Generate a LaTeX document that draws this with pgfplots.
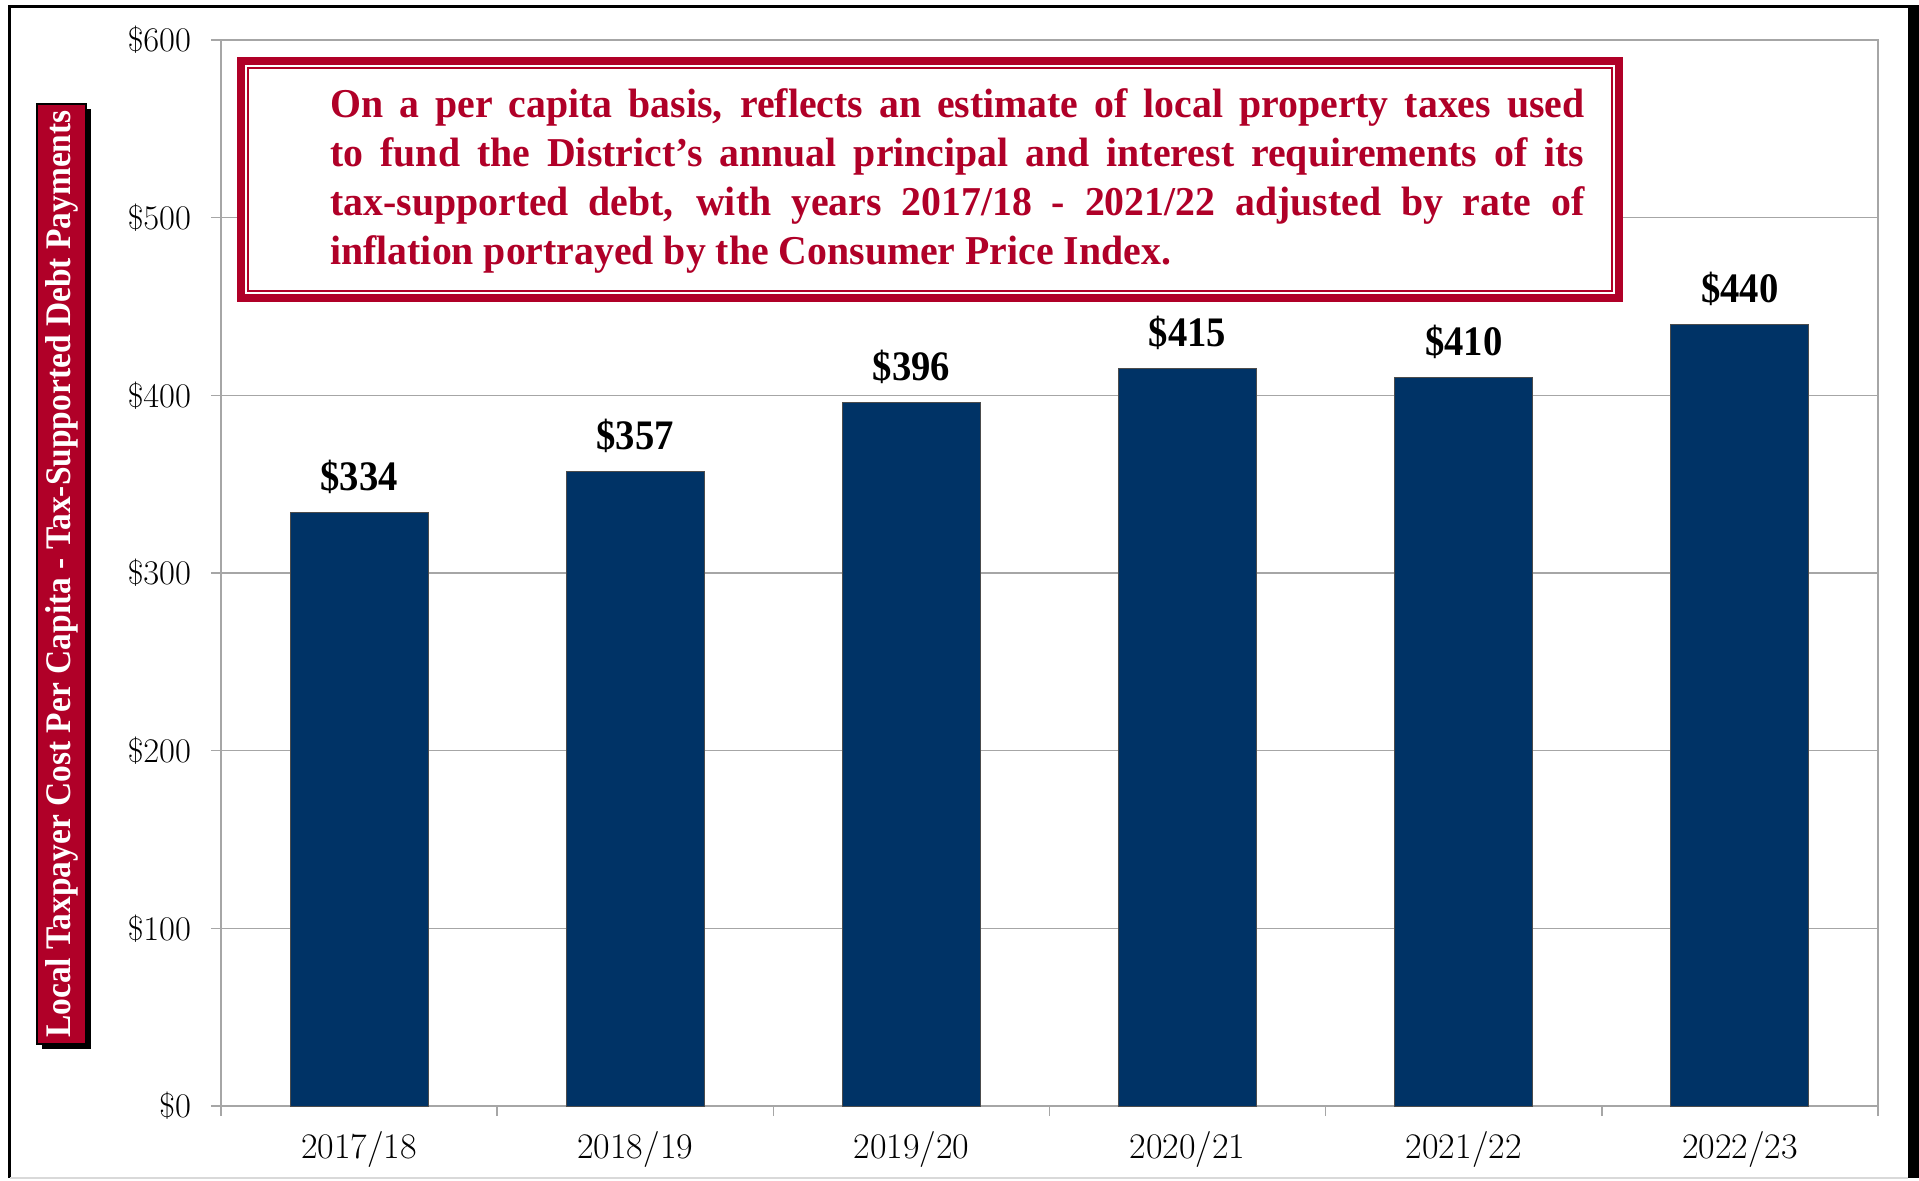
\documentclass[border=0pt]{standalone}
\usepackage{fontspec}
\newfontfamily\cond[FakeStretch=0.92]{Liberation Serif}
\newfontfamily\notefont[FakeStretch=0.97]{Liberation Serif}
\newfontfamily\ylabfont[FakeStretch=0.93]{Liberation Serif}
\usepackage{pgfplots}
\pgfplotsset{compat=1.18}
\definecolor{barblue}{RGB}{0,51,102}
\definecolor{boxred}{RGB}{176,0,40}
\definecolor{gridgray}{RGB}{166,166,166}

\begin{document}
\begin{tikzpicture}
\begin{axis}[
  scale only axis, width=828.5pt, height=533pt,
  xmin=-0.5, xmax=5.5, ymin=0, ymax=600,
  ytick={0,100,...,600},
  yticklabel={\$\pgfmathprintnumber{\tick}},
  xtick={-0.5,0.5,...,5.5}, xticklabels={},
  extra x ticks={0,...,5},
  extra x tick labels={2017/18,2018/19,2019/20,2020/21,2021/22,2022/23},
  extra x tick style={major tick length=0pt},
  tick pos=left,
  tick align=outside, major tick length=5pt,
  ymajorgrids, grid style={gridgray, line width=0.6pt},
  axis line style={gridgray, line width=0.8pt},
  tick style={gridgray, line width=0.8pt},
  xticklabel style={font=\fontsize{18}{21}\selectfont, text=black, yshift=-9pt},
  yticklabel style={font=\fontsize{17}{20}\selectfont, text=black, xshift=-6.5pt},
]
\addplot[ybar, bar width=69pt, fill=barblue, draw=black!70, line width=0.5pt,
  nodes near coords={\$\pgfmathprintnumber{\pgfplotspointmeta}},
  every node near coord/.append style={font=\cond\bfseries\fontsize{21}{24}\selectfont,
    text=black, yshift=5.8pt, /pgf/number format/assume math mode=true}]
  coordinates {(0,334) (1,357) (2,396) (3,415) (4,410) (5,440)};
\end{axis}

% note box
\draw[boxred, line width=4pt, fill=white] (10pt,404pt) rectangle (699pt,522.5pt);
\draw[boxred, line width=1pt] (13.5pt,407.5pt) rectangle (695.5pt,519pt);
\node[anchor=base west, inner sep=0, text=boxred] at (54.5pt,494pt) {\parbox[t]{627pt}{%
  \notefont\bfseries\fontsize{20.5}{24.5}\selectfont
  \makebox[627pt][s]{On a per capita basis, reflects an estimate of local property taxes used}\\
  \makebox[627pt][s]{to fund the District’s annual principal and interest requirements of its}\\
  \makebox[627pt][s]{tax-supported debt, with years 2017/18 - 2021/22 adjusted by rate of}\\
  inflation portrayed by the Consumer Price Index.}};

% y label box
\fill[black] (-89.5pt,28.5pt) rectangle (-65pt,498.5pt);
\filldraw[fill=boxred, draw=black, line width=0.6pt] (-92pt,31pt) rectangle (-67.5pt,501pt);
\node[rotate=90, text=white, inner sep=0, font=\ylabfont\bfseries\fontsize{18}{20}\selectfont]
  at (-79.75pt,266pt) {Local Taxpayer Cost Per Capita - Tax-Supported Debt Payments};

% outer frame
\draw[black, line width=1.5pt] (-105.5pt,-36pt) -- (-105.5pt,549.5pt) -- (846pt,549.5pt);
\fill[black] (843.5pt,-36pt) rectangle (849pt,550.5pt);
\draw[black!15, line width=1pt] (-105.5pt,-36pt) -- (843.5pt,-36pt);

\pgfresetboundingbox
\useasboundingbox (-110.5pt,-37pt) rectangle (849pt,553pt);
\end{tikzpicture}
\end{document}
